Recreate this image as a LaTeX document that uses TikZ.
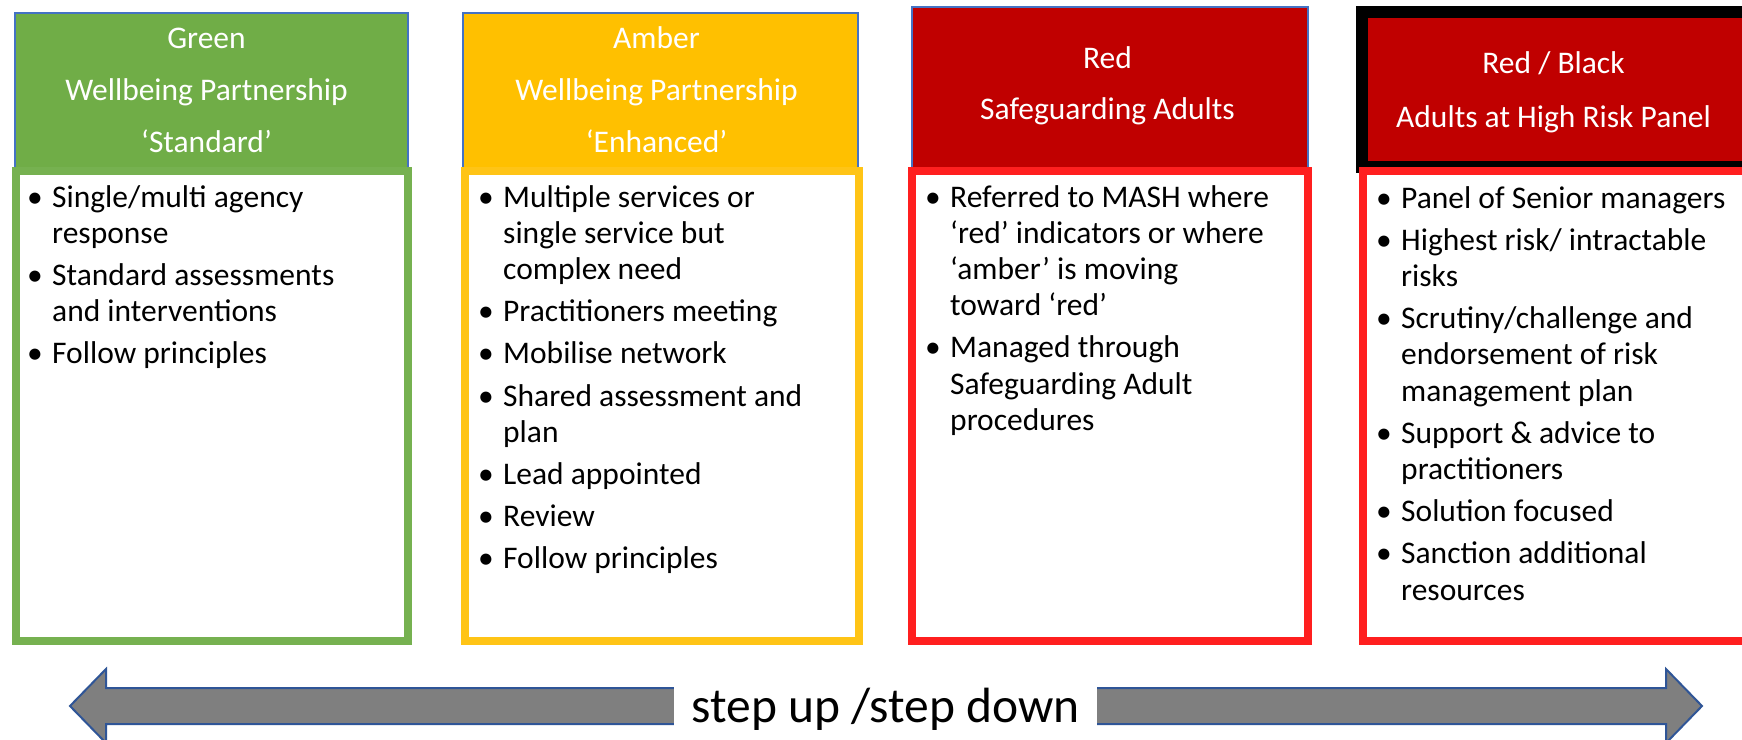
\documentclass[tikz,border=0pt]{standalone}
\usepackage{fontspec}
\setmainfont{Carlito}

\definecolor{hdrblue}{HTML}{4472C4}
\definecolor{grnfill}{HTML}{70AD47}
\definecolor{grnline}{HTML}{76B150}
\definecolor{ambfill}{HTML}{FFC000}
\definecolor{ambline}{HTML}{FFC416}
\definecolor{redfill}{HTML}{C00000}
\definecolor{redline}{HTML}{FF1F1F}
\definecolor{arrfill}{HTML}{7F7F7F}
\definecolor{arrline}{HTML}{2F5597}

% bullet items with a hanging indent; \rfirst opens the list, \rbul starts each further item
\newcommand\rfirst{\hangindent=25pt\hangafter=1\noindent\makebox[25pt][l]{\textbullet}}
\newcommand\rbul{\par\rfirst}
% fixed word spaces, so that centred lines are not stretched
\newcommand\wordsp{\spaceskip=0.226em plus 0em minus 0em\relax}
\newcommand\lstfnt{\fontsize{31.5}{36.2}\selectfont\setlength{\parskip}{6pt}\wordsp}
\newcommand\hdrfnt[1]{\fontsize{31.5}{#1}\selectfont\wordsp}

\begin{document}
\begin{tikzpicture}[x=1pt,y=-1pt,
  hdrbox/.style={draw=hdrblue, line width=1.5pt},
  bodybox/.style={fill=white, line width=8pt},
  hdrtext/.style={anchor=base, text=white, text width=390pt, align=center, inner sep=0pt},
  listtext/.style={anchor=base west, text=black, text width=420pt, align=left, inner sep=0pt},
  steptext/.style={anchor=base, fill=white, inner sep=0pt, minimum width=423pt,
                   text height=38pt, text depth=12pt,
                   font=\fontsize{49.5}{58}\selectfont\wordsp}
]
\useasboundingbox (0,0) rectangle (1742,739);
\clip (0,0) rectangle (1742,739);
\fill[white] (0,0) rectangle (1742,739);

% ---- Green column ----
\fill[grnfill, hdrbox] (15,13) rectangle (408,170);
\draw[grnline, bodybox] (16,170.5) rectangle (408,641);
\node[hdrtext] (greenhead) at (206.5,48)
  {\hdrfnt{52}Green\\Wellbeing Partnership\\‘Standard’\par};
\node[listtext] (greenlist) at (27,207)
  {\lstfnt\rfirst Single/multi agency\newline response\rbul Standard assessments\newline and interventions\rbul Follow principles\par};

% ---- Amber column ----
\fill[ambfill, hdrbox] (463,13) rectangle (858,170);
\draw[ambline, bodybox] (465,170.5) rectangle (859,641);
\node[hdrtext] (amberhead) at (656.5,48)
  {\hdrfnt{52}Amber\\Wellbeing Partnership\\‘Enhanced’\par};
\node[listtext] (amberlist) at (478,207)
  {\lstfnt\rfirst Multiple services or\newline single service but\newline complex need\rbul Practitioners meeting\rbul Mobilise network\rbul Shared assessment and\newline plan\rbul Lead appointed\rbul Review\rbul Follow principles\par};

% ---- Red column ----
\fill[redfill, hdrbox] (912,7) rectangle (1308,170);
\draw[redline, bodybox] (912,170.5) rectangle (1308,641);
\node[hdrtext] (redhead) at (1107.5,68)
  {\hdrfnt{51}Red\\Safeguarding Adults\par};
\node[listtext] (redlist) at (925,207)
  {\lstfnt\rfirst Referred to MASH where\newline ‘red’ indicators or where\newline ‘amber’ is moving\newline toward ‘red’\rbul Managed through\newline Safeguarding Adult\newline procedures\par};

% ---- Red / Black column ----
\filldraw[draw=black, fill=redfill, line width=12pt] (1362,12) rectangle (1770,167);
\draw[redline, bodybox] (1363,170.5) rectangle (1770,641);
\node[hdrtext] (blackhead) at (1553.5,73)
  {\hdrfnt{54}Red / Black\\Adults at High Risk Panel\par};
\node[listtext] (blacklist) at (1376,208)
  {\lstfnt\rfirst Panel of Senior managers\rbul Highest risk/ intractable\newline risks\rbul Scrutiny/challenge and\newline endorsement of risk\newline management plan\rbul Support \& advice to\newline practitioners\rbul Solution focused\rbul Sanction additional\newline resources\par};

% ---- step up / step down double arrow ----
\coordinate (ltip) at (70,706);
\coordinate (rtip) at (1702,706);
\filldraw[fill=arrfill, draw=arrline, line width=2pt, line join=miter]
  (ltip) -- (106,669) -- (106,688) -- (1666,688) -- (1666,669) -- (rtip)
  -- (1666,743) -- (1666,724) -- (106,724) -- (106,743) -- cycle;
\node[steptext] (steplabel) at (885.5,722) {step up /step down};
\end{tikzpicture}
\end{document}
